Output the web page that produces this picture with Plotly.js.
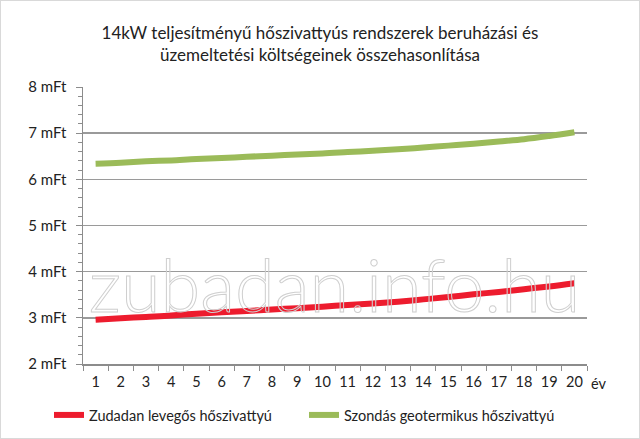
<!DOCTYPE html>
<html>
<head>
<meta charset="utf-8">
<script src="https://cdn.plot.ly/plotly-3.0.1.min.js"></script>
<style>
html,body{margin:0;padding:0;background:#fff;}
#wrap{width:640px;height:439px;box-sizing:border-box;border:1px solid #d9d9d9;position:relative;overflow:hidden;}
#chart{position:absolute;left:-1px;top:-1px;width:640px;height:439px;}
.annotation[data-index="0"] .annotation-text{fill:rgba(255,255,255,0) !important;stroke:#cfcfcf;stroke-width:1px;}
</style>
</head>
<body>
<div id="wrap"><div id="chart"></div></div>
<script>
const years = ['1','2','3','4','5','6','7','8','9','10','11','12','13','14','15','16','17','18','19','20'];
const zubadanValues = [2.96,2.99,3.02,3.05,3.09,3.12,3.15,3.18,3.21,3.24,3.28,3.31,3.35,3.40,3.45,3.51,3.56,3.62,3.68,3.75];
const geoValues = [6.34,6.36,6.39,6.41,6.44,6.46,6.49,6.51,6.54,6.56,6.59,6.62,6.65,6.69,6.73,6.77,6.82,6.87,6.94,7.02];
const yTickVals = [2,3,4,5,6,7,8];
const yTickText = ['2 mFt','3 mFt','4 mFt','5 mFt','6 mFt','7 mFt','8 mFt'];
const seriesNames = ['Zudadan levegős hőszivattyú','Szondás geotermikus hőszivattyú'];
const titleText = '14kW teljesítményű hőszivattyús rendszerek beruházási és<br>üzemeltetési költségeinek összehasonlítása';
const unitLabel = 'év';
const watermark = 'zubadan.info.hu';

const FONT = 'Lato, "Open Sans", sans-serif';
const L = 83, R = 587, T = 87, B = 364;
const PW = R - L, PH = B - T;

const traces = [
  {x: years, y: zubadanValues, name: seriesNames[0], type: 'scatter', mode: 'lines', legendwidth: 210,
   line: {color: '#ED1C2E', width: 6, shape: 'spline'}},
  {x: years, y: geoValues, name: seriesNames[1], type: 'scatter', mode: 'lines', legendwidth: 215,
   line: {color: '#9BBB59', width: 6, shape: 'spline'}}
];

const layout = {
  width: 640, height: 439,
  margin: {l: L, r: 640 - R, t: T, b: 439 - B, autoexpand: false},
  paper_bgcolor: '#fff', plot_bgcolor: '#fff',
  font: {family: FONT, size: 14, color: '#222'},
  title: {text: titleText, x: 0.5, xref: 'container', xanchor: 'center', y: 1 - 38.5/439, yref: 'container', yanchor: 'middle',
          font: {family: FONT, size: 17, color: '#222'}},
  showlegend: true,
  legend: {orientation: 'h', x: (49 - L)/PW, xanchor: 'left', y: -(415 - B)/PH, yanchor: 'middle',
           font: {family: FONT, size: 14.5, color: '#222'}, bgcolor: 'rgba(0,0,0,0)'},
  xaxis: {type: 'category', categoryorder: 'array', categoryarray: years,
          range: [-0.5, 19.5], showgrid: false, showline: true, linecolor: '#8c8c8c', linewidth: 1.5,
          ticks: 'outside', tickson: 'boundaries', ticklen: 5, tickcolor: '#8c8c8c', tickwidth: 1, tickangle: 0,
          tickfont: {family: FONT, size: 14.5, color: '#222'}, zeroline: false, fixedrange: true, ticklabelstandoff: 4},
  yaxis: {range: [2, 8], tickvals: yTickVals, ticktext: yTickText, showgrid: true, gridcolor: '#9a9a9a', gridwidth: 1.5,
          showline: true, linecolor: '#8c8c8c', linewidth: 1.5, ticks: 'outside', ticklen: 6, tickcolor: '#8c8c8c',
          minor: {dtick: 0.2, ticks: 'outside', ticklen: 4, tickcolor: '#8c8c8c', showgrid: false},
          tickfont: {family: FONT, size: 15, color: '#222'}, zeroline: false, fixedrange: true, ticklabelstandoff: 6},
  annotations: [
    {text: watermark, xref: 'paper', yref: 'y', x: (87 - L)/PW, y: 3.74, showarrow: false,
     xanchor: 'left', yanchor: 'middle', font: {family: 'Lato, sans-serif', size: 72, color: '#cfcfcf', weight: 300}},
    {text: unitLabel, xref: 'paper', yref: 'paper', x: (598 - L)/PW, y: -(383 - B)/PH, showarrow: false,
     xanchor: 'center', yanchor: 'middle', font: {family: FONT, size: 14.5, color: '#222'}}
  ]
};

Plotly.newPlot('chart', traces, layout, {displayModeBar: false, staticPlot: true});
</script>
</body>
</html>
